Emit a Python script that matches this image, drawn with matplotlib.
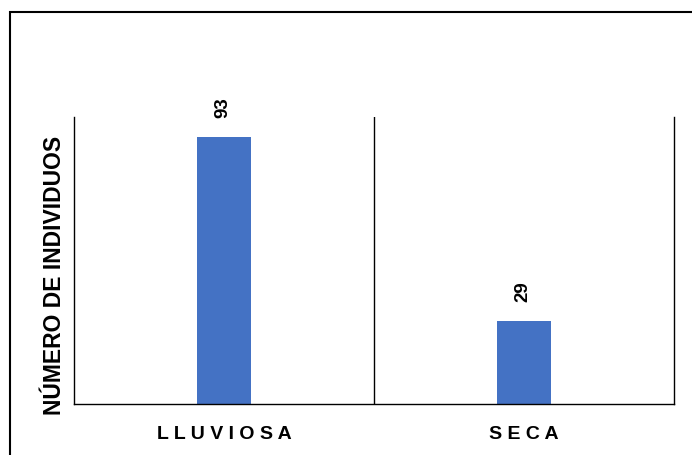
import matplotlib.pyplot as plt
from matplotlib.patches import Rectangle

# Individuals counted per season
temporadas = ['LLUVIOSA', 'SECA']
individuos = [93, 29]

plt.rcParams['font.family'] = ['Liberation Sans', 'DejaVu Sans']

fig = plt.figure(figsize=(6.92, 4.56), dpi=100)
ax = fig.add_axes([74 / 692, 51 / 456, 600 / 692, 287 / 456])

x = list(range(len(temporadas)))
bars = ax.bar(x, individuos, width=0.183, color='#4472C4', zorder=2)

for b, v in zip(bars, individuos):
    ax.annotate(str(v), (b.get_x() + b.get_width() / 2, v),
                xytext=(-1, 14.5), textcoords='offset points',
                rotation=90, ha='center', va='bottom',
                fontsize=13.5, fontweight='bold')

ax.set_xlim(-0.5, 1.5)
ax.set_ylim(0, 100)
ax.set_xticks(x)
# letters spaced out like the original axis labels
ax.set_xticklabels([' '.join(t) for t in temporadas],
                   fontsize=14, fontweight='bold')
ax.tick_params(axis='x', length=0, pad=15)
ax.set_yticks([])

# separator between the two seasons
ax.axvline(0.5, color='black', lw=1.0)

for s in ['left', 'right', 'bottom']:
    ax.spines[s].set_linewidth(1.0)
    ax.spines[s].set_color('black')
ax.spines['top'].set_visible(False)

ax.set_ylabel('NÚMERO DE INDIVIDUOS', fontsize=16.5,
              fontweight='bold', va='center')
ax.yaxis.set_label_coords(-0.033, 0.45)

# outer chart frame
fig.patches.append(Rectangle((10 / 692, -0.05), 1.0, 0.05 + 443 / 456,
                             transform=fig.transFigure, fill=False,
                             edgecolor='black', lw=1.5))

fig.savefig('out.png', dpi=100)
